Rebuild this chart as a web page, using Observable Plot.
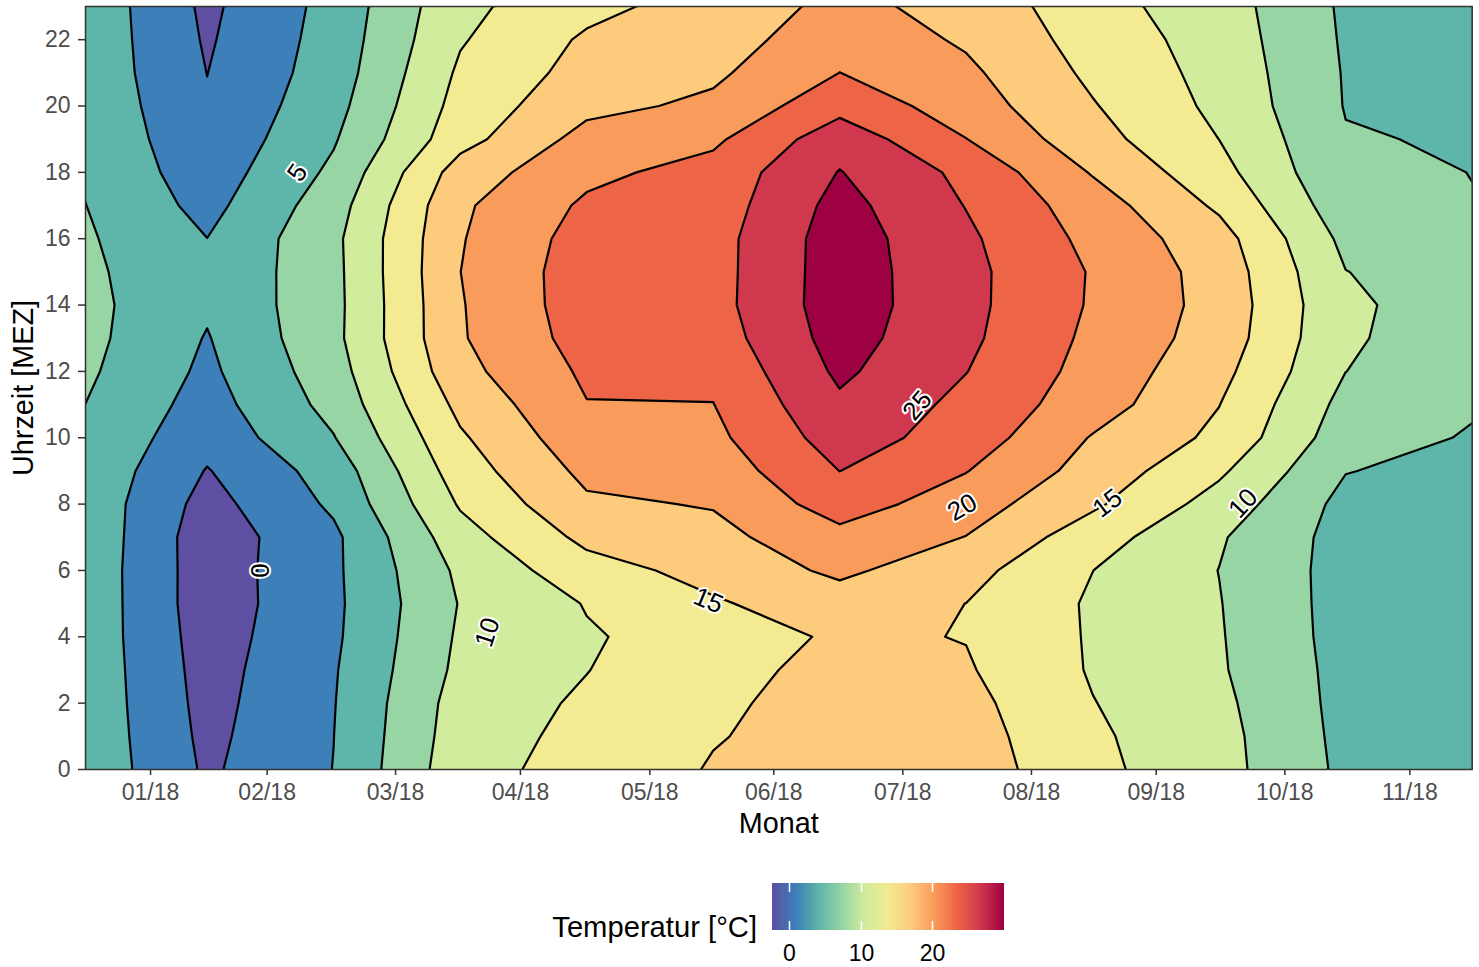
<!DOCTYPE html>
<html>
<head>
<meta charset="utf-8">
<script src="https://cdn.jsdelivr.net/npm/d3@7"></script>
<script src="https://cdn.jsdelivr.net/npm/@observablehq/plot@0.6"></script>
<style>
  html, body { margin: 0; padding: 0; background: #ffffff; }
  #wrap { position: relative; width: 1479px; height: 967px; font-family: "Liberation Sans", Arial, sans-serif; }
  #legend-title { position: absolute; right: 722px; top: 913px; font-size: 29.2px; line-height: 1; color: #000; white-space: nowrap; }
  #legend-ramp { position: absolute; left: 752px; top: 883px; }
  #legend-ramp line { stroke: #ffffff !important; stroke-width: 1.5; stroke-dasharray: 9 29 9 12; }
</style>
</head>
<body>
<div id="wrap">
  <div id="chart"></div>
  <div id="legend-title">Temperatur [°C]</div>
  <div id="legend-ramp"></div>
</div>
<script>
// ---------------- data ----------------
const months = ["01/2018","02/2018","03/2018","04/2018","05/2018","06/2018","07/2018","08/2018","09/2018","10/2018","11/2018","12/2018"];
const hours  = [0,1,2,3,4,5,6,7,8,9,10,11,12,13,14,15,16,17,18,19,20,21,22,23];

// mean temperature [°C] per hour (0..23) for each month
const jan = [5.38,5.32,5.27,5.24,5.2,5.28,5.24,5.43,5.24,5.42,5.65,6.15,6.65,6.97,6.95,6.75,6.49,6.19,5.85,5.72,5.5,5.26,5.28,5.3];
const feb = [-0.45,-0.72,-0.95,-1.15,-1.37,-1.62,-1.6,-1.69,-1.06,-0.16,1.04,1.8,2.4,2.83,3.4,3.35,3.02,2.07,1.33,0.68,0.25,-0.03,-0.33,-0.6];
const mar = [3.05,2.98,2.88,2.75,2.5,2.4,2.45,2.4,3.5,4.3,5.87,6.95,7.65,8.22,8.15,8.2,8.3,7.65,6.6,5.72,5.0,4.45,4.2,3.99];
const apr = [10.9,10.54,10.28,9.71,9.43,9.15,9.6,10.8,12.3,13.55,14.6,15.8,17.1,17.73,17.8,17.98,17.8,17.53,16.4,13.9,13.1,12.48,11.75,11.25];
const may = [13.14,12.84,12.44,11.93,11.75,12.15,13.8,15.75,17.5,18.74,20.0,20.9,21.5,22.2,22.58,22.56,22.23,21.48,20.3,19.07,17.2,16.08,15.43,14.14];
const jun = [15.2,14.85,14.6,14.25,13.2,14.68,16.0,17.12,18.2,19.3,20.3,20.95,21.6,22.5,22.95,22.9,22.87,22.42,22.08,20.44,18.6,17.47,16.49,16.34];
const jul = [16.2,16.0,15.9,15.7,15.5,16.6,18.6,20.1,22.4,24.02,25.4,26.5,27.55,28.23,28.6,28.55,28.5,28.0,27.12,25.8,23.0,21.02,20.0,18.71];
const aug = [16.6,16.28,15.88,15.29,14.9,14.98,16.0,17.93,19.4,21.1,22.65,23.2,24.06,24.6,24.8,24.81,24.53,23.9,23.27,21.05,19.5,18.6,17.6,17.12];
const sep = [12.69,12.45,12.09,11.74,11.7,11.63,12.02,13.3,15.5,16.85,17.8,19.4,19.95,20.36,20.7,20.77,20.2,19.45,17.78,16.1,15.2,14.4,13.8,13.07];
const oct = [10.05,9.95,9.66,9.31,9.21,9.11,8.96,9.3,10.77,12.5,14.35,15.05,15.9,16.7,16.96,16.8,16.2,14.5,13.0,11.98,11.3,10.98,10.68,10.4];
const nov = [5.36,5.2,5.09,5.05,4.9,4.85,4.86,4.88,5.1,6.1,7.29,8.08,9.02,9.39,9.52,9.05,8.23,7.14,6.4,6.2,5.86,5.79,5.65,5.53];
const dec = [4.5,4.4,4.3,4.2,4.1,4.1,4.1,4.2,4.6,5.0,5.76,6.3,6.9,7.3,7.44,7.5,7.2,6.05,5.98,5.73,5.4,5.3,5.2,5.0];

// contour breaks and band colours (band below 0 .. band above 27)
const thresholds = [0,3,6,9,12,15,18,21,24,27];
const bandColors = ["#5E4FA2","#3C7FB9","#5DB6A9","#97D5A4","#D1EC9C","#F3EA91","#FDCB7C","#F99B5A","#EE6446","#D0384D","#9E0142"];

// x axis ticks (month index scale: 0 = Jan ... 11 = Dec)
const xTicks = [0.552,1.474,2.489,3.476,4.499,5.479,6.499,7.516,8.502,9.519,10.507];
const xTickLabels = ["01/18","02/18","03/18","04/18","05/18","06/18","07/18","08/18","09/18","10/18","11/18"];
const xDomain = [0.038, 11];
const yTicks = [0,2,4,6,8,10,12,14,16,18,20,22];
const yDomain = [0, 23];

// legend
const legendDomain = [-2.4, 30];
const legendTicks = [0, 10, 20];

// isotherm labels
const contourLabels = [
  {month: 1.421, hour: 6.0,  text: "0",  angle: -90},
  {month: 1.714, hour: 17.99, text: "5",  angle: -55},
  {month: 3.216, hour: 4.13, text: "10", angle: -72},
  {month: 4.962, hour: 5.09, text: "15", angle: 23},
  {month: 6.615, hour: 10.97, text: "25", angle: -50},
  {month: 6.97,  hour: 7.9,  text: "20", angle: -30},
  {month: 8.117, hour: 8.02, text: "15", angle: -37},
  {month: 9.19,  hour: 8.02, text: "10", angle: -47}
];

// ---------------- build grid ----------------
const series = [jan, feb, mar, apr, may, jun, jul, aug, sep, oct, nov, dec];
const grid = [];
for (let h = 0; h < hours.length; ++h)
  for (let m = 0; m < series.length; ++m) grid.push(series[m][h]);
const gridOpts = {x1: -0.5, x2: series.length - 0.5, y1: -0.5, y2: hours.length - 0.5, width: series.length, height: hours.length};
const labelMap = new Map(xTicks.map((d, i) => [d, xTickLabels[i]]));

const font = "Liberation Sans, Arial, sans-serif";
const chart = Plot.plot({
  width: 1479,
  height: 850,
  marginLeft: 85,
  marginRight: 7.3,
  marginTop: 6,
  marginBottom: 81,
  x: {domain: xDomain},
  y: {domain: yDomain},
  color: {type: "threshold", domain: thresholds, range: bandColors},
  style: {fontFamily: font, background: "white", overflow: "visible"},
  marks: [
    Plot.frame({fill: bandColors[0]}),
    Plot.contour(grid, {...gridOpts, fill: Plot.identity, thresholds: [-100, ...thresholds], clip: true}),
    Plot.contour(grid, {...gridOpts, value: Plot.identity, thresholds, fill: "none", stroke: "black", strokeWidth: 2.2, strokeLinejoin: "round", clip: true}),
    Plot.text(contourLabels, {x: "month", y: "hour", text: "text", rotate: "angle", fontSize: 26, fill: "black", stroke: "white", strokeWidth: 4}),
    Plot.frame({stroke: "#333333", strokeWidth: 1.5}),
    Plot.axisX(xTicks, {tickFormat: d => labelMap.get(d), tickSize: 6, tickPadding: 8, fontSize: 23, fill: "#4D4D4D", stroke: "#333333", strokeWidth: 1.5, label: null}),
    Plot.axisY(yTicks, {tickSize: 7, tickPadding: 8, fontSize: 23, fill: "#4D4D4D", stroke: "#333333", strokeWidth: 1.5, label: null}),
    Plot.text(["Monat"], {frameAnchor: "bottom", lineAnchor: "middle", textAnchor: "middle", dy: 54, fontSize: 28.8, fill: "black"}),
    Plot.text(["Uhrzeit [MEZ]"], {frameAnchor: "left", lineAnchor: "middle", textAnchor: "middle", dx: -62, rotate: -90, fontSize: 28.8, fill: "black"})
  ]
});
document.getElementById("chart").appendChild(chart);

const legend = Plot.legend({
  color: {type: "linear", domain: legendDomain, interpolate: d3.piecewise(d3.interpolateRgb, bandColors)},
  ticks: legendTicks,
  tickSize: 12,
  width: 272,
  height: 90,
  marginLeft: 20,
  marginRight: 20,
  marginTop: 0,
  marginBottom: 43,
  label: null,
  style: {fontSize: "23px", fontFamily: font, color: "black", overflow: "visible"}
});
document.getElementById("legend-ramp").appendChild(legend);
</script>
</body>
</html>
